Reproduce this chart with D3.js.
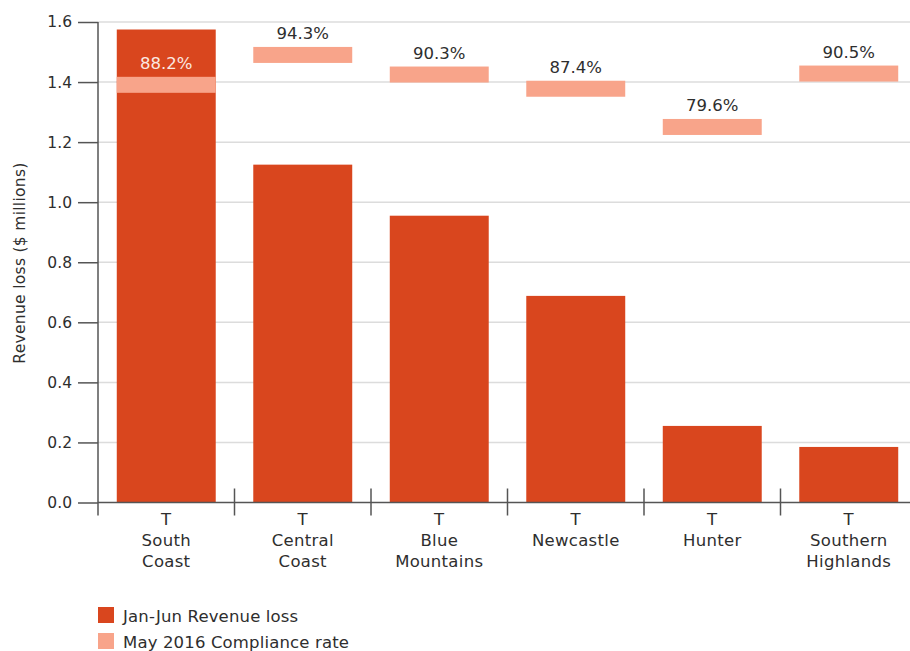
<!DOCTYPE html>
<html>
<head>
<meta charset="utf-8">
<script src="https://cdn.jsdelivr.net/npm/d3@7"></script>
<style>
  html, body { margin: 0; padding: 0; background: #fff; }
  svg { display: block; font-family: "DejaVu Sans", sans-serif; }
</style>
</head>
<body>
<svg id="chart" width="910" height="651"></svg>
<script>
// ---- data ----
const categories = ["South Coast", "Central Coast", "Blue Mountains", "Newcastle", "Hunter", "Southern Highlands"];
const categoryLines = [["South", "Coast"], ["Central", "Coast"], ["Blue", "Mountains"], ["Newcastle"], ["Hunter"], ["Southern", "Highlands"]];
const revenueLoss = [1.575, 1.125, 0.955, 0.688, 0.255, 0.185];
const complianceRate = [88.2, 94.3, 90.3, 87.4, 79.6, 90.5];
const yTicks = [0, 0.2, 0.4, 0.6, 0.8, 1.0, 1.2, 1.4, 1.6];
const legendLabels = ["Jan-Jun Revenue loss", "May 2016 Compliance rate"];

(function () {
// ---- styles ----
const barColor = "#d9461e";
const bandColor = "#f8a48a";
const textColor = "#2e2e2e";
const axisColor = "#555555";
const gridColor = "#dcdcdc";

const svg = d3.select("#chart");
const pLeft = 98, pRight = 917, pTop = 22, pBottom = 502.5;

const x = d3.scaleBand().domain(categories).range([pLeft, pRight])
  .paddingInner(0.275).paddingOuter(0.1375);
const y = d3.scaleLinear().domain([0, 1.6]).range([pBottom, pTop]);
const c = d3.scaleLinear().domain([0, 100]).range([509, 19]);

// gridlines
svg.append("g").selectAll("line").data(yTicks.filter(d => d > 0)).join("line")
  .attr("x1", pLeft).attr("x2", 910)
  .attr("y1", d => y(d)).attr("y2", d => y(d))
  .attr("stroke", gridColor).attr("stroke-width", 1.5);

// bars
svg.append("g").selectAll("rect").data(revenueLoss).join("rect")
  .attr("x", (d, i) => x(categories[i]))
  .attr("width", x.bandwidth())
  .attr("y", d => y(d))
  .attr("height", d => y(0) - y(d))
  .attr("fill", barColor);

// compliance bands
const bandH = 16;
svg.append("g").selectAll("rect").data(complianceRate).join("rect")
  .attr("x", (d, i) => x(categories[i]))
  .attr("width", x.bandwidth())
  .attr("y", d => c(d))
  .attr("height", bandH)
  .attr("fill", bandColor);

// compliance labels
svg.append("g").selectAll("text").data(complianceRate).join("text")
  .attr("x", (d, i) => x(categories[i]) + x.bandwidth() / 2)
  .attr("y", d => c(d) - 8)
  .attr("text-anchor", "middle")
  .attr("font-size", 16.5)
  .attr("fill", (d, i) => (c(d) - 20 > y(revenueLoss[i])) ? "#fbe8e1" : textColor)
  .text(d => d.toFixed(1) + "%");

// y axis
const yAxis = svg.append("g").attr("transform", `translate(${pLeft},0)`)
  .call(d3.axisLeft(y).tickValues(yTicks).tickFormat(d3.format(".1f")).tickSize(20).tickPadding(6));
yAxis.select(".domain").remove();
yAxis.selectAll(".tick line").attr("stroke", axisColor).attr("stroke-width", 1.5);
yAxis.selectAll(".tick text").attr("fill", textColor).attr("font-size", 15.5)
  .attr("font-family", "DejaVu Sans, sans-serif");
svg.append("line").attr("x1", pLeft).attr("x2", pLeft).attr("y1", y(1.6)).attr("y2", pBottom + 13)
  .attr("stroke", axisColor).attr("stroke-width", 1.5);

// x axis line
svg.append("line").attr("x1", pLeft).attr("x2", 910).attr("y1", pBottom).attr("y2", pBottom)
  .attr("stroke", axisColor).attr("stroke-width", 1.5);
// category boundary ticks
const boundaries = categories.slice(1).map(cat => x(cat) - x.step() * x.paddingInner() / 2);
svg.append("g").selectAll("line").data(boundaries).join("line")
  .attr("x1", d => d).attr("x2", d => d)
  .attr("y1", pBottom - 14).attr("y2", pBottom + 13)
  .attr("stroke", axisColor).attr("stroke-width", 1.5);

// category labels
const catG = svg.append("g").selectAll("text").data(categories).join("text")
  .attr("text-anchor", "middle").attr("font-size", 16.5).attr("fill", textColor)
  .attr("letter-spacing", 0.3);
catG.each(function(d, i) {
  const t = d3.select(this);
  const cx = x(d) + x.bandwidth() / 2;
  t.append("tspan").attr("x", cx).attr("y", 525).text("T");
  categoryLines[i].forEach((ln, j) => {
    t.append("tspan").attr("x", cx).attr("y", 546 + j * 20.5).text(ln);
  });
});

// y title
svg.append("text")
  .attr("transform", `translate(25,263) rotate(-90)`)
  .attr("text-anchor", "middle")
  .attr("font-size", 15.5)
  .attr("letter-spacing", 0.3)
  .attr("fill", textColor)
  .text("Revenue loss ($ millions)");

// legend
const legendColors = [barColor, bandColor];
const lg = svg.append("g").selectAll("g").data(legendLabels).join("g")
  .attr("transform", (d, i) => `translate(98,${607 + i * 26})`);
lg.append("rect").attr("width", 16).attr("height", 16).attr("fill", (d, i) => legendColors[i]);
lg.append("text").attr("x", 25).attr("y", 15).attr("font-size", 16.5).attr("fill", textColor)
  .attr("letter-spacing", 0.15).text(d => d);
})();
</script>
</body>
</html>
